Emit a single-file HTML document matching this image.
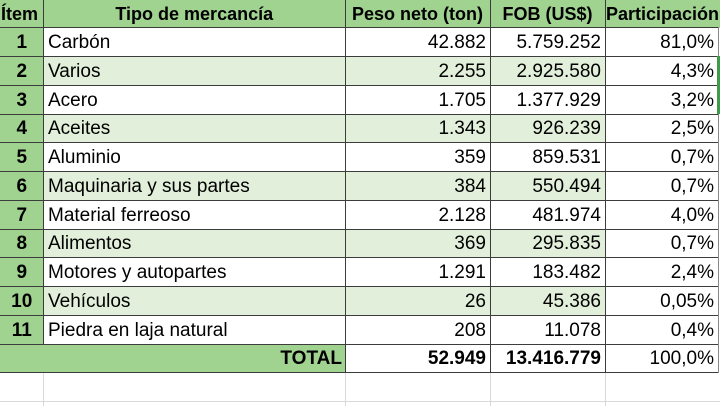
<!DOCTYPE html>
<html><head><meta charset="utf-8"><style>
html,body{margin:0;padding:0;background:#fff;}
body{width:720px;height:405px;position:relative;overflow:hidden;font-family:"Liberation Sans",Arial,sans-serif;color:#000;}
div{position:absolute;box-sizing:border-box;}
.t{font-size:19px;line-height:28.75px;height:28.75px;white-space:nowrap;padding-top:1px;}
.h{font-size:18px;font-weight:bold;line-height:27.5px;height:27.5px;top:0.5px;white-space:nowrap;text-align:center;}
.c0{left:0;width:43.5px;text-align:center;font-weight:bold;}
.c1{left:43.5px;width:301.5px;padding-left:4.5px;}
.c2{left:345px;width:145px;text-align:right;padding-right:4px;}
.c3{left:490px;width:115px;text-align:right;padding-right:4px;}
.c4{left:605px;width:113px;text-align:right;padding-right:4px;}
.hl{left:0;width:718px;height:1px;background:#3c3c3c;}
.vl{width:1px;background:#3c3c3c;}
.gl{background:#d9d9d9;}
</style></head><body>
<!-- backgrounds -->
<div style="left:0;top:0;width:720px;height:27.5px;background:#a0d290;"></div>
<div style="left:0;top:27.5px;width:43.5px;height:345px;background:#a0d290;"></div>
<div style="left:0;top:343.75px;width:345px;height:28.75px;background:#a0d290;"></div>
<div style="left:43.5px;top:56.25px;width:561.5px;height:28.75px;background:#e2efda;"></div>
<div style="left:43.5px;top:113.75px;width:561.5px;height:28.75px;background:#e2efda;"></div>
<div style="left:43.5px;top:171.25px;width:561.5px;height:28.75px;background:#e2efda;"></div>
<div style="left:43.5px;top:228.75px;width:561.5px;height:28.75px;background:#e2efda;"></div>
<div style="left:43.5px;top:286.25px;width:561.5px;height:28.75px;background:#e2efda;"></div>

<!-- below-table gridlines -->
<div class="gl" style="left:43px;top:372.5px;width:1px;height:33px;"></div>
<div class="gl" style="left:345px;top:372.5px;width:1px;height:33px;"></div>
<div class="gl" style="left:490px;top:372.5px;width:1px;height:33px;"></div>
<div class="gl" style="left:605px;top:372.5px;width:1px;height:33px;"></div>
<div class="gl" style="left:0;top:401px;width:720px;height:1px;"></div>

<!-- lines -->
<div class="hl" style="top:27px;"></div>
<div class="hl" style="top:56px;"></div>
<div class="hl" style="top:84.5px;"></div>
<div class="hl" style="top:113.5px;"></div>
<div class="hl" style="top:142px;"></div>
<div class="hl" style="top:171px;"></div>
<div class="hl" style="top:199.5px;"></div>
<div class="hl" style="top:228.5px;"></div>
<div class="hl" style="top:257px;"></div>
<div class="hl" style="top:286px;"></div>
<div class="hl" style="top:314.5px;"></div>
<div class="hl" style="top:343.5px;"></div>
<div class="hl" style="top:372px;"></div>
<div class="vl" style="left:43px;top:0;height:344px;"></div>
<div class="vl" style="left:345px;top:0;height:373px;"></div>
<div class="vl" style="left:490px;top:0;height:373px;"></div>
<div class="vl" style="left:605px;top:0;height:373px;"></div>
<div class="vl" style="left:718px;top:27px;height:346px;background:#888;"></div>
<div style="left:717px;top:56px;width:3px;height:58px;background:#3f9a4a;"></div>

<!-- header -->
<div class="h" style="left:0;width:43.5px;text-align:left;padding-left:1px;">Ítem</div>
<div class="h" style="left:43.5px;width:301.5px;">Tipo de mercancía</div>
<div class="h" style="left:345px;width:145px;">Peso neto (ton)</div>
<div class="h" style="left:490px;width:115px;">FOB (US$)</div>
<div class="h" style="left:605px;width:115px;">Participación</div>

<!-- rows -->
<div class="t c0" style="top:28px">1</div><div class="t c1" style="top:28px">Carbón</div><div class="t c2" style="top:28px">42.882</div><div class="t c3" style="top:28px">5.759.252</div><div class="t c4" style="top:28px">81,0%</div>
<div class="t c0" style="top:56.75px">2</div><div class="t c1" style="top:56.75px">Varios</div><div class="t c2" style="top:56.75px">2.255</div><div class="t c3" style="top:56.75px">2.925.580</div><div class="t c4" style="top:56.75px">4,3%</div>
<div class="t c0" style="top:85.5px">3</div><div class="t c1" style="top:85.5px">Acero</div><div class="t c2" style="top:85.5px">1.705</div><div class="t c3" style="top:85.5px">1.377.929</div><div class="t c4" style="top:85.5px">3,2%</div>
<div class="t c0" style="top:114.25px">4</div><div class="t c1" style="top:114.25px">Aceites</div><div class="t c2" style="top:114.25px">1.343</div><div class="t c3" style="top:114.25px">926.239</div><div class="t c4" style="top:114.25px">2,5%</div>
<div class="t c0" style="top:143px">5</div><div class="t c1" style="top:143px">Aluminio</div><div class="t c2" style="top:143px">359</div><div class="t c3" style="top:143px">859.531</div><div class="t c4" style="top:143px">0,7%</div>
<div class="t c0" style="top:171.75px">6</div><div class="t c1" style="top:171.75px">Maquinaria y sus partes</div><div class="t c2" style="top:171.75px">384</div><div class="t c3" style="top:171.75px">550.494</div><div class="t c4" style="top:171.75px">0,7%</div>
<div class="t c0" style="top:200.5px">7</div><div class="t c1" style="top:200.5px">Material ferreoso</div><div class="t c2" style="top:200.5px">2.128</div><div class="t c3" style="top:200.5px">481.974</div><div class="t c4" style="top:200.5px">4,0%</div>
<div class="t c0" style="top:229.25px">8</div><div class="t c1" style="top:229.25px">Alimentos</div><div class="t c2" style="top:229.25px">369</div><div class="t c3" style="top:229.25px">295.835</div><div class="t c4" style="top:229.25px">0,7%</div>
<div class="t c0" style="top:258px">9</div><div class="t c1" style="top:258px">Motores y autopartes</div><div class="t c2" style="top:258px">1.291</div><div class="t c3" style="top:258px">183.482</div><div class="t c4" style="top:258px">2,4%</div>
<div class="t c0" style="top:286.75px">10</div><div class="t c1" style="top:286.75px">Vehículos</div><div class="t c2" style="top:286.75px">26</div><div class="t c3" style="top:286.75px">45.386</div><div class="t c4" style="top:286.75px">0,05%</div>
<div class="t c0" style="top:315.5px">11</div><div class="t c1" style="top:315.5px">Piedra en laja natural</div><div class="t c2" style="top:315.5px">208</div><div class="t c3" style="top:315.5px">11.078</div><div class="t c4" style="top:315.5px">0,4%</div>
<div class="t" style="top:344.25px;left:0;width:345px;text-align:right;padding-right:3px;font-weight:bold;">TOTAL</div>
<div class="t c2" style="top:344.25px;font-weight:bold;">52.949</div>
<div class="t c3" style="top:344.25px;font-weight:bold;">13.416.779</div>
<div class="t c4" style="top:344.25px;">100,0%</div>
</body></html>
